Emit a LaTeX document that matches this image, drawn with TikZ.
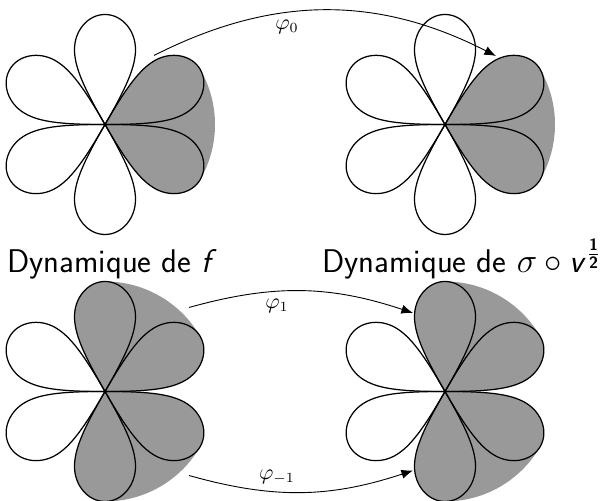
\documentclass[tikz,border=0pt]{standalone}
\usepackage{amsmath}
\usetikzlibrary{arrows.meta,positioning}
\definecolor{ombre}{HTML}{999999}
\tikzset{
    petale/.style={line width=0.62pt, line join=round},
    fleche/.style={line width=0.45pt, -{Latex[length=5.8pt,width=4.6pt]}},
    legende/.style={inner sep=0pt, font=\fontsize{16.4}{19}\selectfont\sffamily},
    etiquette/.style={inner sep=0pt, font=\fontsize{10.5}{12}\selectfont}
}
% one loop of the flower, along the axis given in degrees
\newcommand{\boucle}{(0,0) .. controls (38,22) and (58,30.5) .. (75,30.5) .. controls (94,30.5) and (110,17) .. (110,0) .. controls (110,-17) and (94,-30.5) .. (75,-30.5) .. controls (58,-30.5) and (38,-22) .. (0,0)}
\newcommand{\petales}[2]{
    \foreach \a in {#2} {\fill[ombre, shift={(#1)}, rotate=\a] \boucle;}
}
\newcommand{\contours}[1]{
    \foreach \a in {30,90,...,330} {\draw[petale, shift={(#1)}, rotate=\a] \boucle;}
}
\begin{document}
\begin{tikzpicture}[x=0.5pt,y=0.5pt]
\useasboundingbox (0,0) rectangle (600,501);

\coordinate (fh) at (105,376.5);
\coordinate (gh) at (445,376.5);
\coordinate (fb) at (105,109.5);
\coordinate (gb) at (445,109.5);

% shaded parts
\fill[ombre] (fh) -- +(-30:110) arc (-30:30:110) -- cycle;
\fill[ombre] (gh) -- +(-30:110) arc (-30:30:110) -- cycle;
\petales{fh}{30,330}
\petales{gh}{30,330}
\fill[ombre] (fb) -- +(30:110) arc (30:90:110) -- cycle;
\fill[ombre] (fb) -- +(-90:110) arc (-90:-30:110) -- cycle;
\fill[ombre] (gb) -- +(30:110) arc (30:90:110) -- cycle;
\fill[ombre] (gb) -- +(-90:110) arc (-90:-30:110) -- cycle;
\petales{fb}{30,90,270,330}
\petales{gb}{30,90,270,330}

\contours{fh}
\contours{gh}
\contours{fb}
\contours{gb}

% arrows
\coordinate (a0) at (154,445.5);
\coordinate (b0) at (496,445);
\coordinate (a1) at (189,193.5);
\coordinate (b1) at (413,188);
\coordinate (a2) at (189,25.5);
\coordinate (b2) at (413,30.5);
\draw[fleche] (a0) to[bend left=27] (b0);
\draw[fleche] (a1) to[bend left=17] (b1);
\draw[fleche] (a2) to[bend right=17] (b2);

\node[etiquette] (p0) at (287,474) {$\varphi_0$};
\node[etiquette] (p1) at (277,195) {$\varphi_1$};
\node[etiquette] (p2) at (277,24) {$\varphi_{-1}$};

\node[legende, anchor=base west] (df) at (7,228) {Dynamique de \textit{f}};
\node[legende, anchor=base west] (dg) at (322,228) {Dynamique de $\sigma\circ\text{\textit{v}}^{\frac{\text{\bfseries 1}}{\text{\bfseries 2}}}$};
\end{tikzpicture}
\end{document}
